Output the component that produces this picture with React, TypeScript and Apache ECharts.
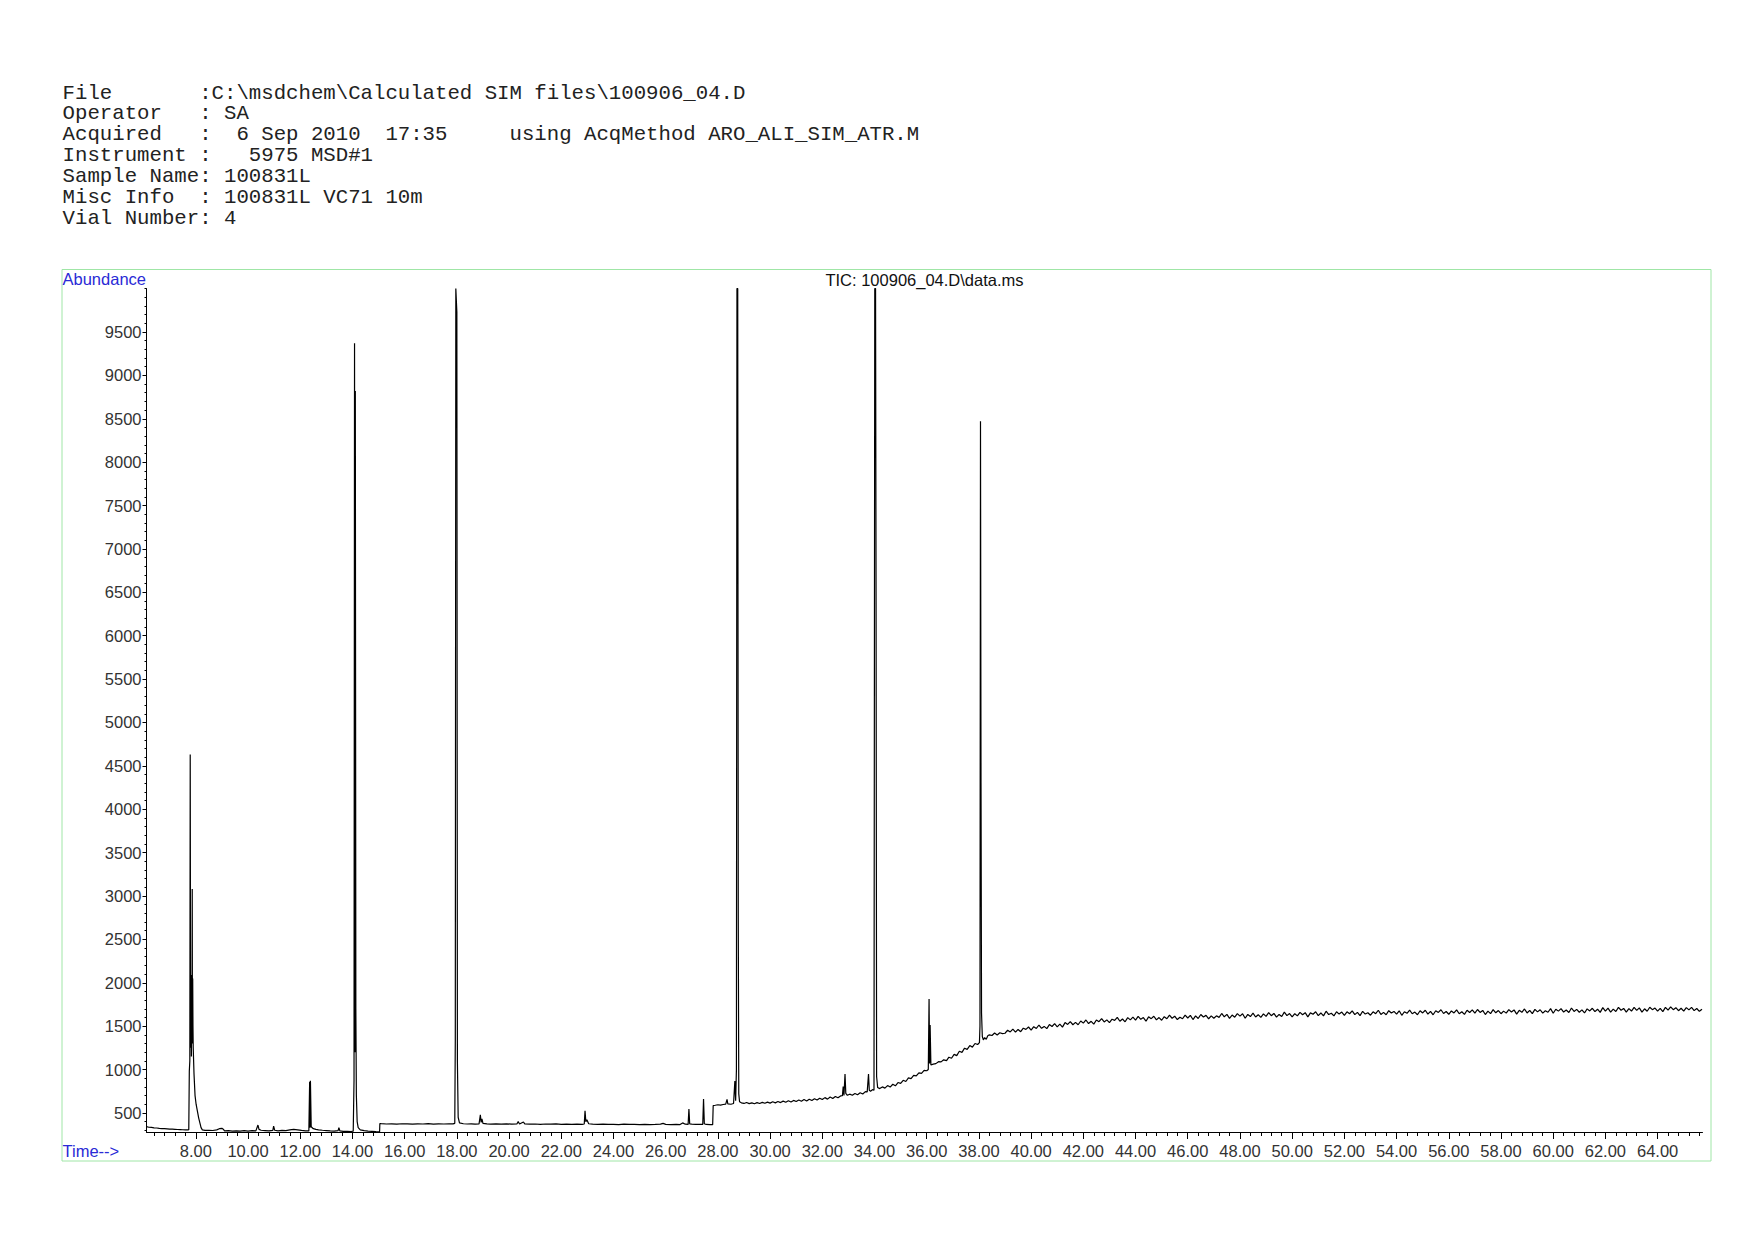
import React, { useEffect, useRef } from "react";
import * as echarts from "echarts";

// ---------- header text ----------
const headerLines: string[] = [
  "File       :C:\\msdchem\\Calculated SIM files\\100906_04.D",
  "Operator   : SA",
  "Acquired   :  6 Sep 2010  17:35     using AcqMethod ARO_ALI_SIM_ATR.M",
  "Instrument :   5975 MSD#1",
  "Sample Name: 100831L",
  "Misc Info  : 100831L VC71 10m",
  "Vial Number: 4",
];
const chartTitle = "TIC: 100906_04.D\\data.ms";
const yAxisName = "Abundance";
const xAxisName = "Time-->";

// ---------- axis ticks ----------
const xMajorTicks: number[] = [
  8, 10, 12, 14, 16, 18, 20, 22, 24, 26, 28, 30, 32, 34, 36, 38, 40, 42, 44, 46,
  48, 50, 52, 54, 56, 58, 60, 62, 64,
];
const yMajorTicks: number[] = [
  500, 1000, 1500, 2000, 2500, 3000, 3500, 4000, 4500, 5000, 5500, 6000, 6500,
  7000, 7500, 8000, 8500, 9000, 9500,
];
const xMin = 6.11;
const xMax = 65.72;
const yMin = 280;
const yMax = 10000;
const xMinorTicks: number[] = Array.from({ length: 149 }, (_, i) => +(6.4 + 0.4 * i).toFixed(2));
const yMinorTicks: number[] = Array.from({ length: 98 }, (_, i) => 300 + 100 * i);

// ---------- TIC trace (time [min], abundance) ----------
const trace0615: [number, number][] = [
  [6.11, 342], [6.2, 335], [6.3, 333], [6.4, 328], [6.5, 326], [6.6, 322], [6.7, 320],
  [6.8, 318], [6.9, 316], [7.0, 314], [7.1, 313], [7.2, 311], [7.3, 309], [7.4, 308],
  [7.5, 306], [7.6, 305], [7.7, 304], [7.73, 306], [7.75, 980], [7.77, 1100],
  [7.785, 4630], [7.8, 1250], [7.815, 2090], [7.83, 1150], [7.845, 2080], [7.855, 1300],
  [7.862, 3080], [7.87, 1400], [7.88, 2050], [7.89, 1500], [7.9, 1250], [7.93, 950],
  [7.97, 700], [8.01, 600], [8.06, 520], [8.11, 440], [8.16, 380], [8.2, 330],
  [8.25, 305], [8.35, 298], [8.5, 300], [8.65, 297], [8.8, 305], [8.9, 318], [9.0, 322],
  [9.05, 312], [9.1, 292], [9.25, 295], [9.4, 290], [9.55, 294], [9.7, 290], [9.85, 296],
  [10.0, 291], [10.15, 295], [10.3, 293], [10.38, 360], [10.42, 310], [10.5, 300],
  [10.65, 296], [10.8, 292], [10.95, 298], [10.98, 348], [11.02, 300], [11.15, 294],
  [11.3, 298], [11.45, 296], [11.6, 305], [11.75, 310], [11.9, 304], [12.05, 298],
  [12.2, 294], [12.33, 292], [12.36, 860], [12.375, 330], [12.39, 870], [12.42, 340],
  [12.5, 318], [12.6, 310], [12.7, 305], [12.85, 300], [13.0, 296], [13.15, 292],
  [13.3, 290], [13.45, 295], [13.48, 330], [13.52, 292], [13.65, 288], [13.8, 287],
  [13.95, 286], [14.03, 290], [14.06, 870], [14.08, 9370], [14.1, 1200], [14.11, 8820],
  [14.13, 1700], [14.15, 700], [14.18, 400], [14.22, 330], [14.3, 305], [14.45, 295],
  [14.6, 290], [14.75, 288], [14.9, 285], [15.04, 283],
];

const trace1528: [number, number][] = [
  [15.05, 378], [15.1, 376], [15.3, 372], [15.5, 374], [15.7, 371], [15.9, 375],
  [16.1, 373], [16.3, 370], [16.5, 374], [16.7, 372], [16.9, 376], [17.1, 371],
  [17.3, 374], [17.5, 372], [17.7, 375], [17.85, 373], [17.92, 380], [17.94, 1340],
  [17.96, 10000], [17.98, 10000], [18.0, 9730], [18.02, 1100], [18.05, 450], [18.1, 385],
  [18.25, 375], [18.4, 372], [18.55, 374], [18.7, 371], [18.85, 373], [18.9, 478],
  [18.93, 390], [18.96, 430], [19.0, 380], [19.15, 374], [19.3, 370], [19.5, 373],
  [19.7, 371], [19.9, 374], [20.1, 370], [20.3, 372], [20.35, 400], [20.4, 372],
  [20.55, 395], [20.6, 373], [20.8, 370], [21.0, 372], [21.2, 369], [21.4, 372],
  [21.6, 370], [21.8, 373], [22.0, 369], [22.2, 371], [22.4, 368], [22.6, 370],
  [22.8, 368], [22.88, 372], [22.91, 525], [22.94, 400], [22.98, 420], [23.05, 375],
  [23.2, 370], [23.4, 368], [23.6, 371], [23.8, 367], [24.0, 369], [24.2, 366],
  [24.4, 370], [24.6, 367], [24.8, 369], [25.0, 366], [25.2, 368], [25.4, 365],
  [25.6, 367], [25.8, 371], [25.9, 380], [26.0, 368], [26.2, 366], [26.4, 369],
  [26.55, 366], [26.65, 385], [26.75, 370], [26.86, 368], [26.89, 545], [26.92, 372],
  [27.0, 370], [27.15, 367], [27.3, 369], [27.42, 368], [27.45, 660], [27.48, 375],
  [27.55, 367], [27.7, 365], [27.8, 364],
];

const trace2838: [number, number][] = [
  [27.82, 585], [27.9, 588], [28.0, 594], [28.1, 590], [28.2, 597], [28.3, 601],
  [28.35, 655], [28.38, 604], [28.5, 600], [28.6, 608], [28.65, 868], [28.68, 640],
  [28.71, 1000], [28.73, 10000], [28.76, 10000], [28.78, 2780], [28.8, 720], [28.83, 628],
  [28.9, 616], [29.0, 609], [29.1, 620], [29.2, 607], [29.3, 616], [29.4, 606],
  [29.5, 618], [29.6, 609], [29.7, 622], [29.8, 611], [29.9, 624], [30.0, 613],
  [30.1, 628], [30.2, 616], [30.3, 631], [30.4, 619], [30.5, 636], [30.6, 623],
  [30.7, 640], [30.8, 626], [30.9, 644], [31.0, 631], [31.1, 648], [31.2, 634],
  [31.3, 654], [31.4, 638], [31.5, 658], [31.6, 643], [31.7, 664], [31.8, 648],
  [31.9, 670], [32.0, 654], [32.1, 676], [32.2, 659], [32.3, 683], [32.4, 666],
  [32.5, 690], [32.6, 674], [32.7, 696], [32.77, 698], [32.8, 803], [32.83, 702],
  [32.87, 949], [32.9, 725], [32.96, 703], [33.05, 716], [33.15, 704], [33.25, 724],
  [33.35, 710], [33.45, 733], [33.55, 718], [33.65, 745], [33.72, 742], [33.77, 949],
  [33.8, 762], [33.85, 750], [33.92, 768], [33.98, 762], [34.01, 10000], [34.04, 10000],
  [34.06, 6370], [34.08, 920], [34.12, 792], [34.2, 780], [34.3, 800], [34.4, 786],
  [34.5, 815], [34.6, 798], [34.7, 830], [34.8, 812], [34.9, 850], [35.0, 840],
  [35.1, 876], [35.2, 862], [35.3, 903], [35.4, 895], [35.5, 932], [35.6, 926],
  [35.7, 962], [35.8, 955], [35.9, 990], [36.0, 986], [36.06, 1000], [36.09, 1812],
  [36.11, 1070], [36.13, 1513], [36.16, 1052], [36.25, 1062], [36.35, 1068],
  [36.45, 1090], [36.55, 1088], [36.65, 1112], [36.76, 1102], [36.85, 1142],
  [36.95, 1130], [37.05, 1175], [37.15, 1160], [37.25, 1210], [37.35, 1198],
  [37.45, 1246], [37.55, 1232], [37.65, 1276], [37.75, 1258], [37.85, 1300],
  [37.95, 1288], [38.02, 1310],
];

const trace3866: [number, number][] = [
  [38.04, 1500], [38.06, 8470], [38.08, 4300], [38.1, 1650], [38.13, 1380], [38.17, 1342],
  [38.22, 1368], [38.28, 1348], [38.34, 1389],
  [38.4, 1400], [38.5, 1392], [38.6, 1421], [38.7, 1398], [38.8, 1424], [38.9, 1414],
  [39.0, 1418], [39.1, 1453], [39.2, 1433], [39.3, 1466], [39.4, 1431], [39.5, 1462],
  [39.6, 1436], [39.7, 1476], [39.8, 1463], [39.9, 1490],
  [40.0, 1455], [40.1, 1494], [40.2, 1473], [40.3, 1513], [40.4, 1475], [40.5, 1497],
  [40.6, 1471], [40.7, 1518], [40.8, 1496], [40.9, 1529],
  [41.0, 1492], [41.1, 1524], [41.2, 1489], [41.3, 1541], [41.4, 1520], [41.5, 1553],
  [41.6, 1516], [41.7, 1543], [41.8, 1516], [41.9, 1559],
  [42.0, 1535], [42.1, 1571], [42.2, 1530], [42.3, 1556], [42.4, 1523], [42.5, 1571],
  [42.6, 1551], [42.7, 1587], [42.8, 1548], [42.9, 1572],
  [43.0, 1541], [43.1, 1580], [43.2, 1567], [43.3, 1601], [43.4, 1556], [43.5, 1582],
  [43.6, 1550], [43.7, 1598], [43.8, 1572], [43.9, 1604],
  [44.0, 1570], [44.1, 1612], [44.2, 1579], [44.3, 1599], [44.4, 1557], [44.5, 1607],
  [44.6, 1586], [44.7, 1614], [44.8, 1572], [44.9, 1599],
  [45.0, 1568], [45.1, 1609], [45.2, 1585], [45.3, 1626], [45.4, 1591], [45.5, 1615],
  [45.6, 1576], [45.7, 1603], [45.8, 1585], [45.9, 1627],
  [46.0, 1594], [46.1, 1624], [46.2, 1576], [46.3, 1618], [46.4, 1588], [46.5, 1634],
  [46.6, 1605], [46.7, 1624], [46.8, 1585], [46.9, 1619],
  [47.0, 1591], [47.1, 1619], [47.2, 1601], [47.3, 1646], [47.4, 1608], [47.5, 1635],
  [47.6, 1590], [47.7, 1628], [47.8, 1603], [47.9, 1644],
  [48.0, 1616], [48.1, 1643], [48.2, 1591], [48.3, 1635], [48.4, 1611], [48.5, 1649],
  [48.6, 1605], [48.7, 1632], [48.8, 1601], [48.9, 1642],
  [49.0, 1613], [49.1, 1655], [49.2, 1620], [49.3, 1646], [49.4, 1604], [49.5, 1635],
  [49.6, 1611], [49.7, 1662], [49.8, 1621], [49.9, 1645],
  [50.0, 1606], [50.1, 1643], [50.2, 1618], [50.3, 1659], [50.4, 1632], [50.5, 1655],
  [50.6, 1607], [50.7, 1653], [50.8, 1637], [50.9, 1666],
  [51.0, 1622], [51.1, 1652], [51.2, 1618], [51.3, 1672], [51.4, 1634], [51.5, 1648],
  [51.6, 1618], [51.7, 1666], [51.8, 1639], [51.9, 1662],
  [52.0, 1625], [52.1, 1665], [52.2, 1643], [52.3, 1676], [52.4, 1633], [52.5, 1659],
  [52.6, 1621], [52.7, 1671], [52.8, 1639], [52.9, 1654],
  [53.0, 1626], [53.1, 1665], [53.2, 1643], [53.3, 1683], [53.4, 1635], [53.5, 1659],
  [53.6, 1631], [53.7, 1678], [53.8, 1651], [53.9, 1670],
  [54.0, 1638], [54.1, 1677], [54.2, 1625], [54.3, 1666], [54.4, 1648], [54.5, 1684],
  [54.6, 1643], [54.7, 1662], [54.8, 1631], [54.9, 1677],
  [55.0, 1652], [55.1, 1683], [55.2, 1638], [55.3, 1671], [55.4, 1631], [55.5, 1677],
  [55.6, 1658], [55.7, 1689], [55.8, 1646], [55.9, 1669],
  [56.0, 1637], [56.1, 1675], [56.2, 1652], [56.3, 1688], [56.4, 1643], [56.5, 1666],
  [56.6, 1636], [56.7, 1683], [56.8, 1657], [56.9, 1687],
  [57.0, 1649], [57.1, 1692], [57.2, 1658], [57.3, 1681], [57.4, 1634], [57.5, 1673],
  [57.6, 1644], [57.7, 1691], [57.8, 1654], [57.9, 1680],
  [58.0, 1643], [58.1, 1673], [58.2, 1650], [58.3, 1691], [58.4, 1663], [58.5, 1687],
  [58.6, 1638], [58.7, 1682], [58.8, 1660], [58.9, 1698],
  [59.0, 1652], [59.1, 1682], [59.2, 1645], [59.3, 1693], [59.4, 1664], [59.5, 1689],
  [59.6, 1650], [59.7, 1678], [59.8, 1660], [59.9, 1702],
  [60.0, 1648], [60.1, 1695], [60.2, 1673], [60.3, 1702], [60.4, 1662], [60.5, 1686],
  [60.6, 1657], [60.7, 1709], [60.8, 1669], [60.9, 1693],
  [61.0, 1660], [61.1, 1687], [61.2, 1652], [61.3, 1699], [61.4, 1675], [61.5, 1706],
  [61.6, 1667], [61.7, 1695], [61.8, 1659], [61.9, 1713],
  [62.0, 1674], [62.1, 1707], [62.2, 1662], [62.3, 1696], [62.4, 1669], [62.5, 1717],
  [62.6, 1683], [62.7, 1704], [62.8, 1661], [62.9, 1702],
  [63.0, 1674], [63.1, 1717], [63.2, 1682], [63.3, 1710], [63.4, 1662], [63.5, 1700],
  [63.6, 1672], [63.7, 1718], [63.8, 1690], [63.9, 1709],
  [64.0, 1672], [64.1, 1705], [64.2, 1668], [64.3, 1716], [64.4, 1684], [64.5, 1723],
  [64.6, 1690], [64.7, 1713], [64.8, 1678], [64.9, 1706],
  [65.0, 1672], [65.1, 1714], [65.2, 1687], [65.3, 1716], [65.4, 1679], [65.5, 1703],
  [65.6, 1671], [65.7, 1695],
];

const trace: [number, number][] = [...trace0615, ...trace1528, ...trace2838, ...trace3866];

const SANS = "'Liberation Sans', Arial, sans-serif";
const MONO = "'Liberation Mono', 'Courier New', monospace";
const BLUE = "#2a2ad6";
const LABEL = "#333333";

const nb = (s: string) => s.replace(/ /g, "\u00A0");

export default function App() {
  const ref = useRef<HTMLDivElement>(null);

  useEffect(() => {
    if (!ref.current) return;
    const chart = echarts.init(ref.current, null, { renderer: "svg", width: 1754, height: 1240 });

    const headerGraphics = headerLines.map((line, i) => ({
      type: "text",
      x: 62.6,
      y: 93 + i * 20.9,
      silent: true,
      style: {
        text: nb(line),
        fontFamily: MONO,
        fontSize: 20.7,
        fill: "#222222",
        verticalAlign: "middle",
      },
    }));

    const option: any = {
      animation: false,
      backgroundColor: "#ffffff",
      grid: { left: 146.5, top: 288.6, right: 51.5, bottom: 108, containLabel: false },
      xAxis: [
        {
          type: "value",
          min: xMin,
          max: xMax,
          position: "bottom",
          axisLine: { show: true, onZero: false, lineStyle: { color: "#000", width: 1 } },
          axisTick: { show: true, customValues: xMajorTicks, length: 7, lineStyle: { color: "#000", width: 1 } },
          axisLabel: {
            show: true,
            customValues: xMajorTicks,
            formatter: (v: number) => v.toFixed(2),
            fontSize: 16.5,
            fontFamily: SANS,
            color: LABEL,
            margin: 10,
          },
          splitLine: { show: false },
        },
        {
          type: "value",
          min: xMin,
          max: xMax,
          position: "bottom",
          axisLine: { show: false, onZero: false },
          axisTick: { show: true, customValues: xMinorTicks, length: 4, lineStyle: { color: "#000", width: 1 } },
          axisLabel: { show: false },
          splitLine: { show: false },
        },
      ],
      yAxis: [
        {
          type: "value",
          min: yMin,
          max: yMax,
          position: "left",
          axisLine: { show: true, onZero: false, lineStyle: { color: "#000", width: 1 } },
          axisTick: { show: true, customValues: yMajorTicks, length: 4, lineStyle: { color: "#000", width: 1 } },
          axisLabel: {
            show: true,
            customValues: yMajorTicks,
            formatter: (v: number) => String(Math.round(v)),
            fontSize: 16.5,
            fontFamily: SANS,
            color: LABEL,
            margin: 5,
          },
          splitLine: { show: false },
        },
        {
          type: "value",
          min: yMin,
          max: yMax,
          position: "left",
          axisLine: { show: false, onZero: false },
          axisTick: { show: true, customValues: yMinorTicks, length: 2, lineStyle: { color: "#000", width: 1 } },
          axisLabel: { show: false },
          splitLine: { show: false },
        },
      ],
      series: [
        {
          type: "line",
          xAxisIndex: 0,
          yAxisIndex: 0,
          data: trace,
          showSymbol: false,
          symbol: "none",
          silent: true,
          clip: true,
          lineStyle: { color: "#000000", width: 1.2 },
        },
      ],
      graphic: [
        {
          type: "rect",
          silent: true,
          shape: { x: 62, y: 269.5, width: 1649, height: 891.5 },
          style: { fill: "none", stroke: "#9fe6a6", lineWidth: 1 },
        },
        {
          type: "text",
          x: 62.5,
          y: 279,
          silent: true,
          style: { text: yAxisName, fontFamily: SANS, fontSize: 16.5, fill: BLUE, verticalAlign: "middle" },
        },
        {
          type: "text",
          x: 62.5,
          y: 1151,
          silent: true,
          style: { text: xAxisName, fontFamily: SANS, fontSize: 16.5, fill: BLUE, verticalAlign: "middle" },
        },
        {
          type: "text",
          x: 924.5,
          y: 280,
          silent: true,
          style: {
            text: chartTitle,
            fontFamily: SANS,
            fontSize: 16.5,
            fill: "#111111",
            align: "center",
            verticalAlign: "middle",
          },
        },
        ...headerGraphics,
      ],
    };

    chart.setOption(option);
    return () => chart.dispose();
  }, []);

  return (
    <div
      ref={ref}
      style={{ position: "absolute", left: 0, top: 0, width: 1754, height: 1240, background: "#fff" }}
    />
  );
}
